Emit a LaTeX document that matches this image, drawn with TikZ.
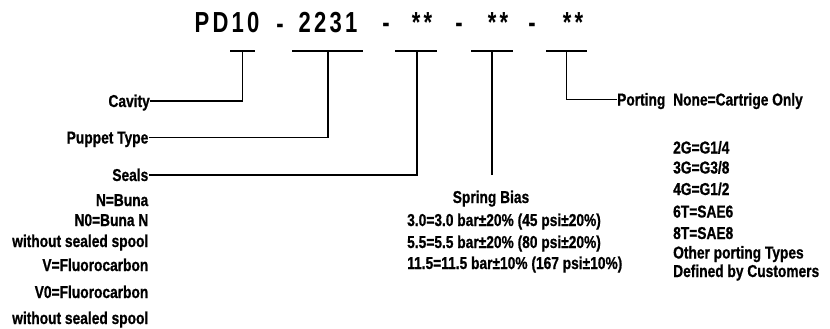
\documentclass[tikz,border=0pt]{standalone}
\usepackage{fontspec}
\setmainfont{Liberation Sans}
\newfontfamily\lblfont{Liberation Sans Bold}[FakeStretch=0.8,FakeBold=0.8]
\newfontfamily\titlefont{Liberation Sans Bold}[FakeStretch=0.76,LetterSpace=11]
\begin{document}
\begin{tikzpicture}[x=1pt,y=-1pt,
  lbl/.style={inner sep=0pt,font=\fontsize{17.2}{19}\lblfont,text height=12pt,text depth=0pt},
  ttl/.style={inner sep=0pt,font=\fontsize{29}{31}\titlefont,text height=20.5pt,text depth=0pt},
  ln/.style={line width=1.3pt}]
\useasboundingbox (0,0) rectangle (830,329);
% title
\node[ttl] (t1) at (227,22) {PD10};
\node[ttl] (h1) at (280,23) {-};
\node[ttl] (t2) at (328,22) {2231};
\node[ttl] (h2) at (386,22) {-};
\node[ttl] (t3) at (422,22) {**};
\node[ttl] (h3) at (459,22) {-};
\node[ttl] (t4) at (498,22) {**};
\node[ttl] (h4) at (532,22) {-};
\node[ttl] (t5) at (573,22) {**};
% bars
\coordinate (b1l) at (230,51); \coordinate (b1r) at (255,51); \coordinate (b1) at (242.5,51);
\coordinate (b2l) at (292,51); \coordinate (b2r) at (363,51); \coordinate (b2) at (328,51);
\coordinate (b3l) at (395,51); \coordinate (b3r) at (437,51); \coordinate (b3) at (417,51);
\coordinate (b4l) at (471,51); \coordinate (b4r) at (513,51); \coordinate (b4) at (492,51);
\coordinate (b5l) at (546,51); \coordinate (b5r) at (587,51); \coordinate (b5) at (566.5,51);
\foreach \i in {1,...,5}{\draw[ln] (b\i l) -- (b\i r);}
% left labels
\node[lbl,anchor=east] (cav) at (150,101) {Cavity};
\node[lbl,anchor=east] (pup) at (148.5,137.5) {Puppet Type};
\node[lbl,anchor=east] (sea) at (148.5,175) {Seals};
\node[lbl,anchor=east] (s1) at (148.5,200) {N=Buna};
\node[lbl,anchor=east] (s2) at (148.5,220) {N0=Buna N};
\node[lbl,anchor=east] (s3) at (148.5,241) {without sealed spool};
\node[lbl,anchor=east] (s4) at (148.5,265) {V=Fluorocarbon};
\node[lbl,anchor=east] (s5) at (148.5,292) {V0=Fluorocarbon};
\node[lbl,anchor=east] (s6) at (148.5,318) {without sealed spool};
% spring bias
\node[lbl] (spr) at (491,197) {Spring Bias};
\node[lbl,anchor=west] (p1) at (407,220) {3.0=3.0 bar±20\% (45 psi±20\%)};
\node[lbl,anchor=west] (p2) at (407,242) {5.5=5.5 bar±20\% (80 psi±20\%)};
\node[lbl,anchor=west] (p3) at (407,263) {11.5=11.5 bar±10\% (167 psi±10\%)};
\coordinate (sprtop) at (492,175);
% porting
\node[lbl,anchor=west] (por) at (617,99.5) {Porting};
\node[lbl,anchor=west] (q0) at (673,99.5) {None=Cartrige Only};
\node[lbl,anchor=west] (q1) at (673,147.5) {2G=G1/4};
\node[lbl,anchor=west] (q2) at (673,167.5) {3G=G3/8};
\node[lbl,anchor=west] (q3) at (673,189) {4G=G1/2};
\node[lbl,anchor=west] (q4) at (673,211.5) {6T=SAE6};
\node[lbl,anchor=west] (q5) at (673,233) {8T=SAE8};
\node[lbl,anchor=west] (q6) at (673,252.5) {Other porting Types};
\node[lbl,anchor=west] (q7) at (673,271) {Defined by Customers};
% connectors
\draw[ln] (cav.east) -| (b1);
\draw[ln] (pup.east) -| (b2);
\draw[ln] (sea.east) -| (b3);
\draw[ln] (sprtop) -- (b4);
\draw[ln] (por.west) -| (b5);
\end{tikzpicture}
\end{document}
